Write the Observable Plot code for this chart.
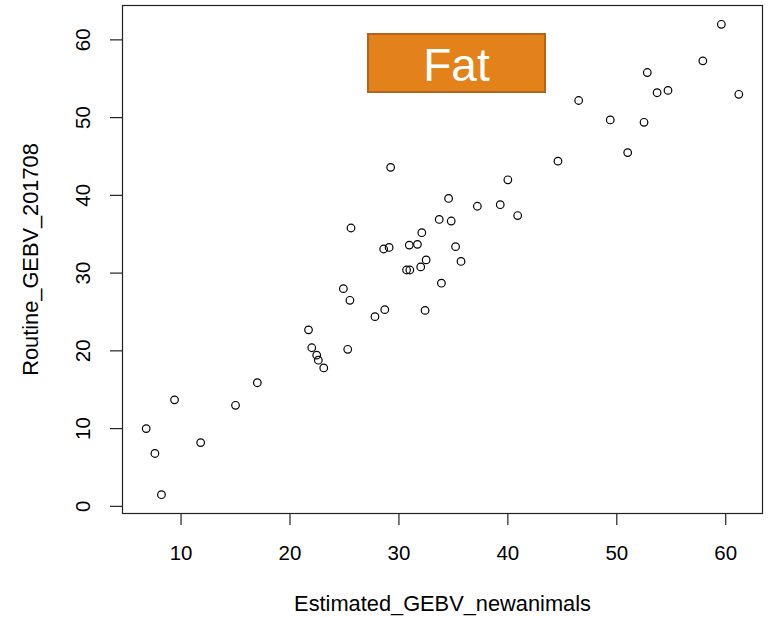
<!DOCTYPE html>
<html>
<head>
<meta charset="utf-8">
<script src="https://cdn.jsdelivr.net/npm/d3@7"></script>
<script src="https://cdn.jsdelivr.net/npm/@observablehq/plot@0.6"></script>
<style>
  html, body { margin: 0; padding: 0; background: #fff; }
  #wrap { position: relative; width: 769px; height: 617px; }
  #tag {
    position: absolute; left: 367px; top: 33px; width: 179px; height: 60px;
    box-sizing: border-box; background: #E3821A; border: 2px solid #B2631C;
    color: #fff; font-family: "Liberation Sans", Arial, sans-serif; font-size: 46px;
    line-height: 56px; text-align: center; padding-top: 2px;
  }
</style>
</head>
<body>
<div id="wrap"></div>
<script>
// Estimated GEBV (new animals) vs routine GEBV (201708) for Fat
const estimated = [6.8, 7.6, 8.2, 9.4, 11.8, 15.0, 17.0, 21.7, 22.0, 22.45, 22.6, 23.1, 25.3, 25.5, 24.9,
  27.8, 28.7, 32.4, 33.9, 30.7, 31.0, 32.0, 32.5, 35.7, 35.2, 28.6, 29.1, 30.95, 31.7, 32.1, 25.6,
  33.7, 34.8, 34.56, 37.2, 39.3, 40.9, 40.0, 29.24, 44.6, 51.0, 49.4, 52.5, 46.5, 53.7, 54.7, 61.2,
  52.8, 57.9, 59.6];
const routine = [10.0, 6.8, 1.5, 13.7, 8.2, 13.0, 15.9, 22.7, 20.4, 19.45, 18.8, 17.8, 20.2, 26.5, 28.0,
  24.4, 25.3, 25.2, 28.7, 30.4, 30.4, 30.8, 31.7, 31.5, 33.4, 33.1, 33.3, 33.6, 33.7, 35.2, 35.8,
  36.9, 36.7, 39.6, 38.6, 38.8, 37.4, 42.0, 43.6, 44.4, 45.5, 49.7, 49.4, 52.2, 53.2, 53.5, 53.0,
  55.8, 57.3, 62.0];
const xTicks = [10, 20, 30, 40, 50, 60];
const yTicks = [0, 10, 20, 30, 40, 50, 60];
const xTitle = "Estimated_GEBV_newanimals";
const yTitle = "Routine_GEBV_201708";
const tagText = "Fat";

const points = estimated.map((x, i) => ({x, y: routine[i]}));
// R-style 4% axis extension
const pad = ([a, b]) => [a - 0.04 * (b - a), b + 0.04 * (b - a)];
const xDom = pad(d3.extent(estimated));
const yDom = pad(d3.extent(routine));

const chart = Plot.plot({
  width: 769, height: 617,
  marginLeft: 122, marginRight: 7, marginTop: 5, marginBottom: 104,
  style: {fontFamily: "'Liberation Sans', Arial, sans-serif", fontSize: "20.5px", color: "#000", background: "#fff"},
  x: {domain: xDom},
  y: {domain: yDom},
  marks: [
    Plot.frame({stroke: "#222", strokeWidth: 1.2}),
    Plot.axisX({ticks: xTicks, tickSize: 12, tickPadding: 20, label: null, stroke: "#222", strokeWidth: 1.2, fontSize: 20.5}),
    Plot.axisY({ticks: yTicks, tickSize: 12, tickPadding: 21, tickRotate: -90, label: null, stroke: "#222", strokeWidth: 1.2, fontSize: 20.5}),
    Plot.dot(points, {x: "x", y: "y", r: 3.8, stroke: "#000", fill: "none", strokeWidth: 1.2}),
    Plot.text([xTitle], {text: d => d, frameAnchor: "bottom", dy: 97, lineAnchor: "bottom", fontSize: 21.8}),
    Plot.text([yTitle], {text: d => d, frameAnchor: "left", textAnchor: "middle", dx: -85, rotate: -90, lineAnchor: "bottom", fontSize: 21.8})
  ]
});
const wrap = document.getElementById("wrap");
wrap.appendChild(chart);
const tag = document.createElement("div");
tag.id = "tag";
tag.textContent = tagText;
wrap.appendChild(tag);
</script>
</body>
</html>
